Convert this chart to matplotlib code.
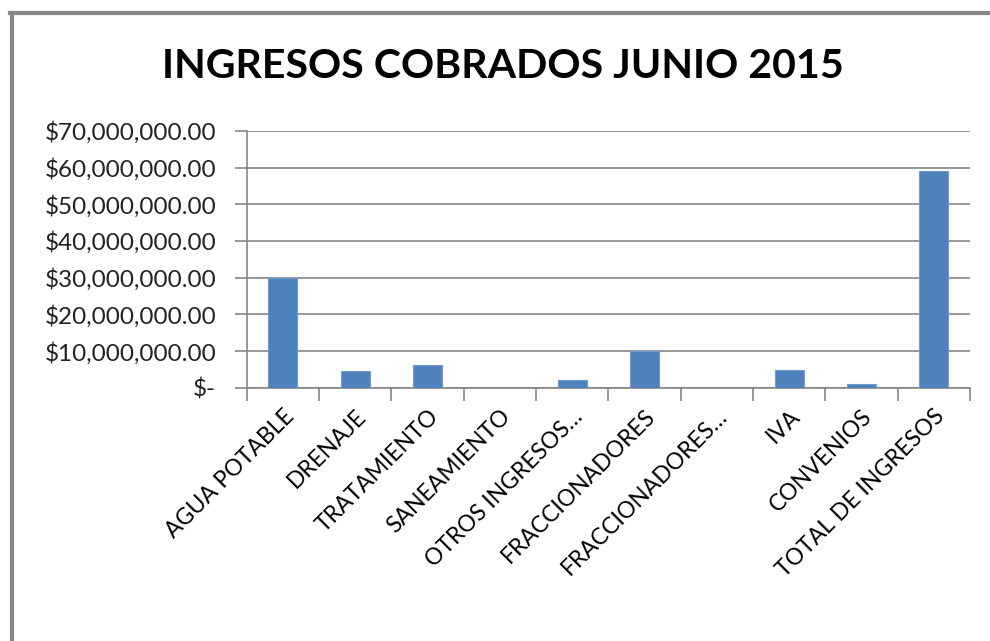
import matplotlib
matplotlib.use("Agg")
import matplotlib.pyplot as plt
from matplotlib.lines import Line2D
from matplotlib.ticker import FuncFormatter, MultipleLocator

categories = ["AGUA POTABLE", "DRENAJE", "TRATAMIENTO", "SANEAMIENTO",
              "OTROS INGRESOS…", "FRACCIONADORES", "FRACCIONADORES…",
              "IVA", "CONVENIOS", "TOTAL DE INGRESOS"]
values = [29900000, 4550000, 6270000, 0, 2100000, 10000000, 0,
          4900000, 1000000, 59000000]
title = "INGRESOS COBRADOS JUNIO 2015"

plt.rcParams['font.family'] = ['Lato', 'DejaVu Sans']

W, H = 990, 641
fig = plt.figure(figsize=(W / 100, H / 100), dpi=100)
fig.patch.set_facecolor("white")

left, right, top, bottom = 246.7, 970.0, 131.0, 387.7
ax = fig.add_axes([left / W, 1 - bottom / H, (right - left) / W, (bottom - top) / H])

x = list(range(len(categories)))
ax.bar(x, values, width=0.4, color="#4F81BD", edgecolor="#6F9BD1", linewidth=0.8, zorder=3)

ax.set_xlim(-0.5, len(categories) - 0.5)
ax.set_ylim(0, 70000000)
ax.yaxis.set_major_locator(MultipleLocator(10000000))

def fmt(v, pos):
    if v == 0:
        return "$-"
    return "${:,.2f}".format(v)

ax.yaxis.set_major_formatter(FuncFormatter(fmt))
ax.grid(axis="y", color="#868686", linewidth=1.2, zorder=0)

for s in ["top", "right"]:
    ax.spines[s].set_visible(False)
for s in ["left", "bottom"]:
    ax.spines[s].set_color("#868686")
    ax.spines[s].set_linewidth(1.2)

ax.set_xticks([i - 0.5 for i in range(len(categories) + 1)], minor=False)
ax.set_xticklabels([])
ax.tick_params(axis="x", which="major", length=9, width=1.2, color="#868686")
ax.set_xticks(x, minor=True)
ax.set_xticklabels(categories, minor=True, rotation=45, ha="right",
                   rotation_mode="anchor", fontsize=16.5, color="black")
ax.tick_params(axis="x", which="minor", length=0, pad=13)
ax.tick_params(axis="y", length=9, width=1.2, color="#868686", labelsize=17.5,
               labelcolor="#222222", pad=13)

fig.text(0.5075, 1 - 66 / H, title, ha="center", va="center",
         fontsize=29.6, fontweight="bold", color="black")

# outer frame
fig.add_artist(Line2D([11.5 / W, 11.5 / W], [0, 1 - 13 / H], transform=fig.transFigure,
                      color="#888888", linewidth=3))
fig.add_artist(Line2D([10 / W, 1], [1 - 13 / H, 1 - 13 / H], transform=fig.transFigure,
                      color="#888888", linewidth=3))

fig.savefig("out.png", dpi=100, facecolor="white")
